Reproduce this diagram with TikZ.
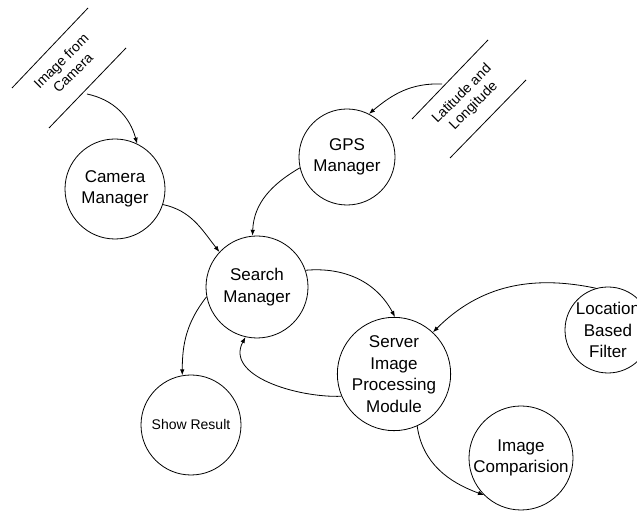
\documentclass[tikz,border=0pt]{standalone}
\usepackage{fontspec}
\setmainfont{Liberation Sans}
\usetikzlibrary{arrows.meta}
\begin{document}
\begin{tikzpicture}[x=1pt,y=1pt,
  proc/.style={circle,draw,line width=0.8pt,minimum size=#1,inner sep=0pt,
    align=center,font=\fontsize{17}{21.5}\selectfont},
  proc/.default=100pt,
  flow/.style={line width=0.8pt,-{Latex[length=6pt,width=4.5pt]}},
  storeline/.style={line width=0.8pt},
  storetext/.style={rotate=45,align=center,font=\fontsize{14}{16.5}\selectfont}]
\useasboundingbox (0,0) rectangle (637,513);

% processes
\node[proc=100pt] (cam) at (115,324) {Camera\\Manager};
\node[proc=96pt] (gps) at (347,356) {GPS\\Manager};
\node[proc=102pt] (search) at (257,226) {Search\\Manager};
\node[proc=104pt] (server) at (394,139) {Server\\Image\\Processing\\Module};
\node[proc=86pt] (lbf) at (608,183) {Location\\Based\\Filter};
\node[proc=104pt] (cmp) at (521,55) {Image\\Comparision};
\node[proc=100pt,font=\fontsize{14}{17}\selectfont] (show) at (191,88) {Show Result};

% data stores
\coordinate (s1a1) at (12,425);  \coordinate (s1a2) at (88,505);
\coordinate (s1b1) at (49,385);  \coordinate (s1b2) at (126,465);
\draw[storeline] (s1a1) -- (s1a2);
\draw[storeline] (s1b1) -- (s1b2);
\node[storetext] (store1) at (67,446) {Image from\\Camera};

\coordinate (s2a1) at (412,394); \coordinate (s2a2) at (488,473);
\coordinate (s2b1) at (450,355); \coordinate (s2b2) at (526,433);
\draw[storeline] (s2a1) -- (s2a2);
\draw[storeline] (s2b1) -- (s2b2);
\node[storetext] (store2) at (468,413) {Latitude and\\Longitude};

% flow start points at the stores
\coordinate (f1) at (87,419);
\coordinate (f2) at (442,429);

% flows
\draw[flow] (f1) to[out=-12,in=105] (cam.64);
\draw[flow] (f2) to[out=178,in=40] (gps.63);
\draw[flow] (cam.-18) to[out=-12,in=128] (search.137);
\draw[flow] (gps.193) to[out=210,in=88] (search.95);
\draw[flow] (search.19) to[out=5,in=118] (server.89);
\draw[flow] (server.203) to[out=182,in=242] (search.257);
\draw[flow] (search.191) to[out=232,in=90] (show.100);
\draw[flow] (lbf.106) to[out=168,in=45] (server.47);
\draw[flow] (server.-66) to[out=-82,in=160] (cmp.225);
\end{tikzpicture}
\end{document}
